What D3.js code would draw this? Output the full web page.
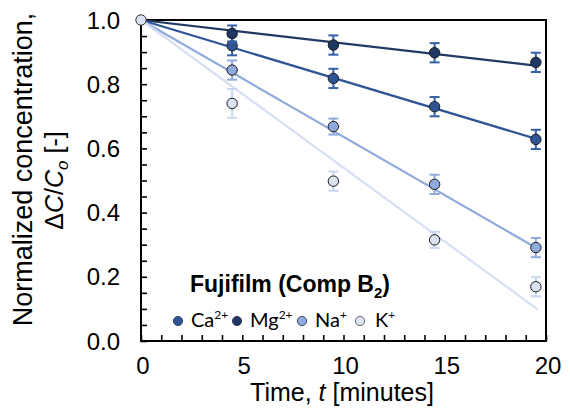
<!DOCTYPE html>
<html><head><meta charset="utf-8">
<script src="https://cdn.jsdelivr.net/npm/d3@7"></script>
<style>body{margin:0;background:#fff}svg{display:block}</style>
</head><body><div id="chart"></div>
<script>
const times = [4.5, 9.5, 14.5, 19.5];
const seriesNames = ["Ca", "Mg", "Na", "K"];
const caValues = [0.92, 0.818, 0.73, 0.628];
const mgValues = [0.958, 0.922, 0.898, 0.868];
const naValues = [0.844, 0.668, 0.488, 0.291];
const kValues = [0.74, 0.498, 0.315, 0.169];
const caErrors = [0.03, 0.03, 0.03, 0.03];
const mgErrors = [0.025, 0.03, 0.03, 0.03];
const naErrors = [0.03, 0.025, 0.03, 0.03];
const kErrors = [0.045, 0.03, 0.025, 0.03];
const fitStart = [0, 1.0];
const fitEndTime = 19.6;
const fitEnds = [0.628, 0.857, 0.287, 0.098];
const xTicks = [0, 5, 10, 15, 20];
const yTicks = [0.0, 0.2, 0.4, 0.6, 0.8, 1.0];

const W = 570, H = 416;
const m = {l: 141, r: 24, t: 20, b: 75};
const svg = d3.select("#chart").append("svg").attr("width", W).attr("height", H);
const x = d3.scaleLinear().domain([0, 20]).range([m.l, W - m.r]);
const y = d3.scaleLinear().domain([0, 1]).range([H - m.b, m.t]);

const fills = {Ca: "#2f5597", Mg: "#1f3864", Na: "#8faadc", K: "#dae3f3"};
const lineCol = {Ca: "#2f5597", Mg: "#203864", Na: "#8faadc", K: "#d6e0f2"};
const errCol = {Ca: "#3560a8", Mg: "#3560a8", Na: "#8faadc", K: "#c9d7f0"};
const sup = {Ca: "2+", Mg: "2+", Na: "+", K: "+"};

const data = {
  Ca: {v: caValues, e: caErrors, end: fitEnds[0]},
  Mg: {v: mgValues, e: mgErrors, end: fitEnds[1]},
  Na: {v: naValues, e: naErrors, end: fitEnds[2]},
  K: {v: kValues, e: kErrors, end: fitEnds[3]}
};

const font = "'Liberation Sans', Arial, Helvetica, sans-serif";
const gx = svg.append("g").attr("transform", `translate(0,${H - m.b})`)
  .call(d3.axisBottom(x).tickValues(d3.range(0, 21, 1)).tickSizeInner(-6).tickSizeOuter(0).tickFormat(""));
gx.select(".domain").remove();
gx.selectAll("line").attr("stroke", "#000").attr("stroke-width", 1.6);
const gy = svg.append("g").attr("transform", `translate(${m.l},0)`)
  .call(d3.axisLeft(y).tickValues(d3.range(0, 21).map(i => i * 0.05)).tickSizeInner(-6).tickSizeOuter(0).tickFormat(""));
gy.select(".domain").remove();
gy.selectAll("line").attr("stroke", "#000").attr("stroke-width", 1.6);

svg.append("rect").attr("x", x(0)).attr("y", y(1)).attr("width", x(20) - x(0)).attr("height", y(0) - y(1))
  .attr("fill", "none").attr("stroke", "#000").attr("stroke-width", 2);

svg.append("g").selectAll("text").data(xTicks).join("text")
  .attr("x", d => x(d) + 2).attr("y", H - m.b + 33).attr("text-anchor", "middle")
  .attr("font-family", font).attr("font-size", 24).text(d => d);
svg.append("g").selectAll("text").data(yTicks).join("text")
  .attr("x", 120).attr("y", d => y(d)).attr("dy", "0.36em").attr("text-anchor", "end")
  .attr("font-family", font).attr("font-size", 24).text(d => d.toFixed(1));

const xt = svg.append("text").attr("x", 342).attr("y", 401).attr("text-anchor", "middle")
  .attr("font-family", font).attr("font-size", 25);
xt.append("tspan").text("Time, ");
xt.append("tspan").attr("font-style", "italic").text("t");
xt.append("tspan").text(" [minutes]");

const cy = (y(0) + y(1)) / 2;
const yl = svg.append("g").attr("transform", `translate(0,${cy}) rotate(-90)`);
yl.append("text").attr("x", 11).attr("y", 32).attr("text-anchor", "middle")
  .attr("font-family", font).attr("font-size", 27).text("Normalized concentration,");
const y2 = yl.append("text").attr("x", 0).attr("y", 63).attr("text-anchor", "middle")
  .attr("font-family", font).attr("font-size", 25);
y2.append("tspan").text("Δ");
y2.append("tspan").attr("font-style", "italic").text("C");
y2.append("tspan").text("/");
y2.append("tspan").attr("font-style", "italic").text("C");
y2.append("tspan").attr("font-style", "italic").attr("font-size", 17).attr("dy", 5).text("o");
y2.append("tspan").attr("dy", -5).text(" [-]");

const drawOrder = ["Mg", "Ca", "Na", "K"];
const plot = svg.append("g");
drawOrder.forEach(k => {
  plot.append("line").attr("x1", x(fitStart[0])).attr("y1", y(fitStart[1]))
    .attr("x2", x(fitEndTime)).attr("y2", y(data[k].end))
    .attr("stroke", lineCol[k]).attr("stroke-width", 2.2);
});
["K", "Na", "Ca", "Mg"].forEach(k => {
  const g = plot.append("g");
  const pts = times.map((t, i) => ({t, v: data[k].v[i], e: data[k].e[i]}));
  const eb = g.selectAll("g.eb").data(pts).join("g");
  eb.append("line").attr("x1", d => x(d.t)).attr("x2", d => x(d.t))
    .attr("y1", d => y(d.v - d.e)).attr("y2", d => y(d.v + d.e)).attr("stroke", errCol[k]).attr("stroke-width", 2);
  [-1, 1].forEach(s => eb.append("line").attr("x1", d => x(d.t) - 5).attr("x2", d => x(d.t) + 5)
    .attr("y1", d => y(d.v + s * d.e)).attr("y2", d => y(d.v + s * d.e)).attr("stroke", errCol[k]).attr("stroke-width", 2));
  g.selectAll("circle").data(pts).join("circle").attr("cx", d => x(d.t)).attr("cy", d => y(d.v)).attr("r", 5.2)
    .attr("fill", fills[k]).attr("stroke", "#1a1a1a").attr("stroke-width", 1);
});
plot.append("circle").attr("cx", x(fitStart[0])).attr("cy", y(fitStart[1])).attr("r", 5.2)
  .attr("fill", fills.K).attr("stroke", "#333").attr("stroke-width", 1);

const lt = svg.append("text").attr("x", 190).attr("y", 292).attr("font-family", font)
  .attr("font-weight", "bold").attr("font-size", 23);
lt.append("tspan").text("Fujifilm (Comp B");
lt.append("tspan").attr("font-size", 15).attr("dy", 6).text("2");
lt.append("tspan").attr("dy", -6).text(")");

const legX = [178, 237, 302, 360];
const lfont = "Lato, 'Open Sans', sans-serif";
seriesNames.forEach((k, i) => {
  svg.append("circle").attr("cx", legX[i]).attr("cy", 321).attr("r", 4.6)
    .attr("fill", fills[k]).attr("stroke", k === "K" ? "#444" : "#1a2a4a").attr("stroke-width", 0.8);
  const t = svg.append("text").attr("x", legX[i] + 13 + (k === "K" ? 2 : 0)).attr("y", 327)
    .attr("font-family", lfont).attr("font-size", 20);
  t.append("tspan").text(k);
  t.append("tspan").attr("font-size", 12).attr("dy", -8).text(sup[k]);
});
</script></body></html>
